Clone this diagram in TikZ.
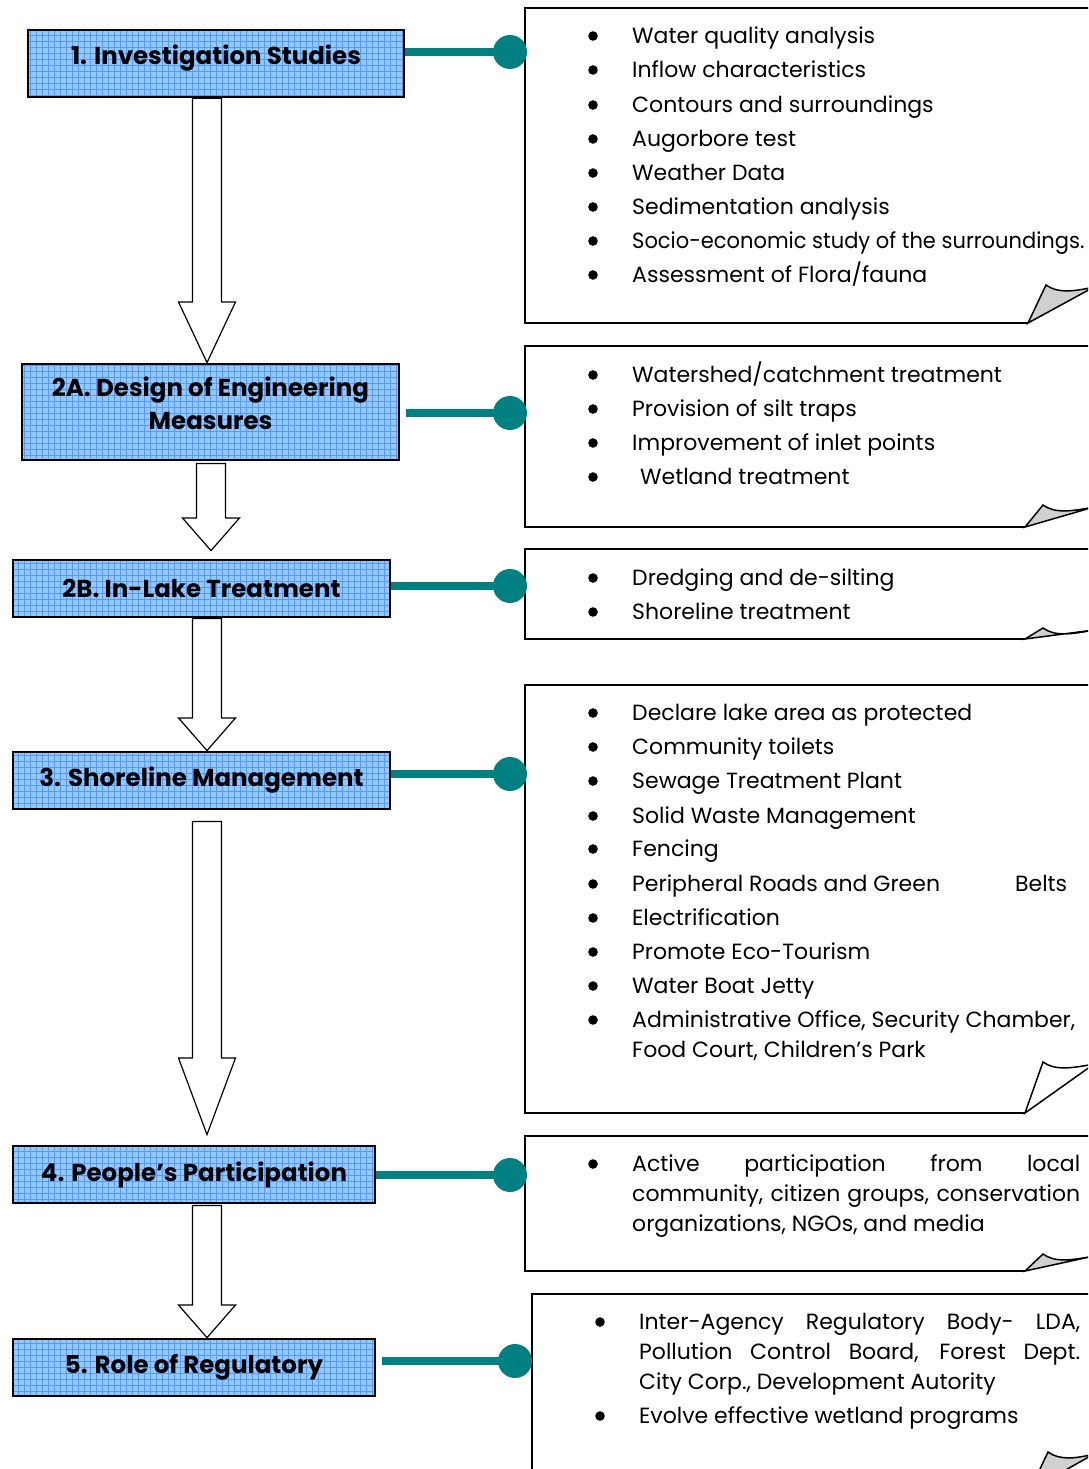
\documentclass[tikz,border=0pt]{standalone}
\usepackage{fontspec}
\setmainfont{Poppins}
\usepackage{xcolor}
\usetikzlibrary{patterns.meta, positioning}
\definecolor{stageblue}{RGB}{150,200,255}
\definecolor{gridblue}{RGB}{85,155,240}
\definecolor{linkteal}{RGB}{0,128,128}
\definecolor{foldgray}{RGB}{208,208,208}
\tikzset{stage/.style={draw=black, line width=2.8pt, preaction={fill=stageblue}, preaction={pattern={Hatch[angle=0, distance=6pt, line width=0.4pt]}, pattern color=gridblue}, font=\fontsize{24.5}{33}\selectfont\bfseries, align=center, inner sep=0pt},
    item/.style={anchor=west, yshift=-5pt, inner sep=0pt, text height=0.7em, text depth=0.15em, font=\fontsize{22}{30}\selectfont}}

\begin{document}
\begin{tikzpicture}[
        x=1pt, y=-1pt,
        dot/.style={circle, fill=linkteal, minimum size=34pt, inner sep=0pt},
        link/.style={linkteal, line width=8pt},
        hollow/.style={draw=black, fill=white, line width=1.2pt, line join=miter},
        note/.style={draw=black, line width=1.5pt, line join=miter},
    ]
        \useasboundingbox (0,0) rectangle (1088,1469);
        \clip (0,0) rectangle (1088,1469);
        % Stages
        \node[stage, minimum width=376pt, minimum height=67pt, text depth=17pt] (inv) at (216,63.5) {1. Investigation Studies};
        \node[stage, minimum width=377pt, minimum height=96pt, text depth=18pt] (eng) at (210.5,412) {2A. Design of Engineering\\Measures};
        \node[stage, minimum width=377pt, minimum height=57pt] (lake) at (201.5,588.5) {2B. In-Lake Treatment};
        \node[stage, minimum width=377pt, minimum height=57pt] (shore) at (201.5,780.5) {3. Shoreline Management};
        \node[stage, minimum width=362pt, minimum height=57pt] (people) at (194,1174.5) {4. People’s Participation};
        \node[stage, minimum width=362pt, minimum height=57pt] (reg) at (194,1367.5) {5. Role of Regulatory};
        % Hollow arrows between stages
        \foreach \a/\b/\x/\yb/\gap/\tgap in {
            inv/eng/207/302/0/0,
            eng/lake/211/518/2/8,
            lake/shore/207/718/0/0,
            shore/people/207/1058/11/10,
            people/reg/207/1305/1/0} {
            \coordinate (mid) at (\x,0);
            \draw[hollow] ([xshift=-14.5pt, yshift=-\gap pt]mid |- \a.south) -- ([xshift=14.5pt, yshift=-\gap pt]mid |- \a.south)
                -- (\x+14.5,\yb) -- (\x+28.5,\yb) -- ([yshift=\tgap pt]mid |- \b.north) -- (\x-28.5,\yb) -- (\x-14.5,\yb) -- cycle;
        }
        % Notes
        \foreach \yt/\yb/\xl/\xf/\ytip/\shade in {
            8/323/525/1028/285/foldgray,
            346/527/525/1025/505/foldgray,
            549/639/525/1025/628/foldgray,
            685/1113/525/1025/1062/white,
            1136/1271/525/1025/1254/foldgray,
            1294/1490/532/1030/1452/foldgray} {
            \draw[note] (1100,\yt) -- (\xl,\yt) -- (\xl,\yb) -- (\xf,\yb);
            \draw[note, fill=\shade] (\xf,\yb) -- (\xf+18,\ytip) .. controls (\xf+30,\ytip+9) and (\xf+48,\ytip+6) .. (1094,\ytip+2) -- cycle;
        }
        % Connectors
        \node[dot] (d1) at (510,52) {};
        \node[dot] (d2) at (510,413) {};
        \node[dot] (d3) at (510,586) {};
        \node[dot] (d4) at (510,774) {};
        \node[dot] (d5) at (510,1175) {};
        \node[dot] (d6) at (515,1361) {};
        \draw[link] (inv.east |- d1) -- (d1.center);
        \draw[link] ([xshift=6pt]eng.east |- d2) -- (d2.center);
        \draw[link] (lake.east |- d3) -- (d3.center);
        \draw[link] (shore.east |- d4) -- (d4.center);
        \draw[link] (people.east |- d5) -- (d5.center);
        \draw[link] ([xshift=6pt]reg.east |- d6) -- (d6.center);
        % Lists
        \foreach \y/\txt [count=\i] in {
            36/Water quality analysis,
            70/Inflow characteristics,
            105/Contours and surroundings,
            139/Augorbore test,
            173/Weather Data,
            207/Sedimentation analysis,
            241/{\scalebox{0.955}[1]{Socio-economic study of the surroundings.}},
            275/{Assessment of Flora/fauna}} {
            \fill (593,\y) circle (4.8pt);
            \node[item] (inv-\i) at (632,\y) {\txt};
        }
        \foreach \y/\txt [count=\i] in {
            375/{Watershed/catchment treatment},
            409/Provision of silt traps,
            443/Improvement of inlet points,
            477/{\hspace*{8pt}Wetland treatment}} {
            \fill (593,\y) circle (4.8pt);
            \node[item] (eng-\i) at (632,\y) {\txt};
        }
        \foreach \y/\txt [count=\i] in {
            578/Dredging and de-silting,
            612/Shoreline treatment} {
            \fill (593,\y) circle (4.8pt);
            \node[item] (lake-\i) at (632,\y) {\txt};
        }
        \foreach \y/\txt [count=\i] in {
            713/Declare lake area as protected,
            747/Community toilets,
            781/Sewage Treatment Plant,
            816/Solid Waste Management,
            849/Fencing,
            884/{\makebox[435pt]{Peripheral Roads and Green\hfill Belts}},
            918/Electrification,
            952/Promote Eco-Tourism,
            986/Water Boat Jetty,
            1020/{Administrative Office, Security Chamber,}} {
            \fill (593,\y) circle (4.8pt);
            \node[item] (shore-\i) at (632,\y) {\txt};
        }
        \node[item] (shore-11) at (632,1050) {Food Court, Children’s Park};
        \fill (593,1164) circle (4.8pt);
        \node[item] (people-1) at (632,1164) {\makebox[448pt][s]{Active participation from local}};
        \node[item] (people-2) at (632,1194) {\makebox[448pt][s]{community, citizen groups, conservation}};
        \node[item] (people-3) at (632,1224) {organizations, NGOs, and media};
        \fill (600,1322) circle (4.8pt);
        \node[item] (reg-1) at (639,1322) {\makebox[441pt][s]{Inter-Agency Regulatory Body- LDA,}};
        \node[item] (reg-2) at (639,1352) {\makebox[441pt][s]{Pollution Control Board, Forest Dept.}};
        \node[item] (reg-3) at (639,1382) {City Corp., Development Autority};
        \fill (600,1416) circle (4.8pt);
        \node[item] (reg-4) at (639,1416) {Evolve effective wetland programs};
    \end{tikzpicture}
\end{document}
